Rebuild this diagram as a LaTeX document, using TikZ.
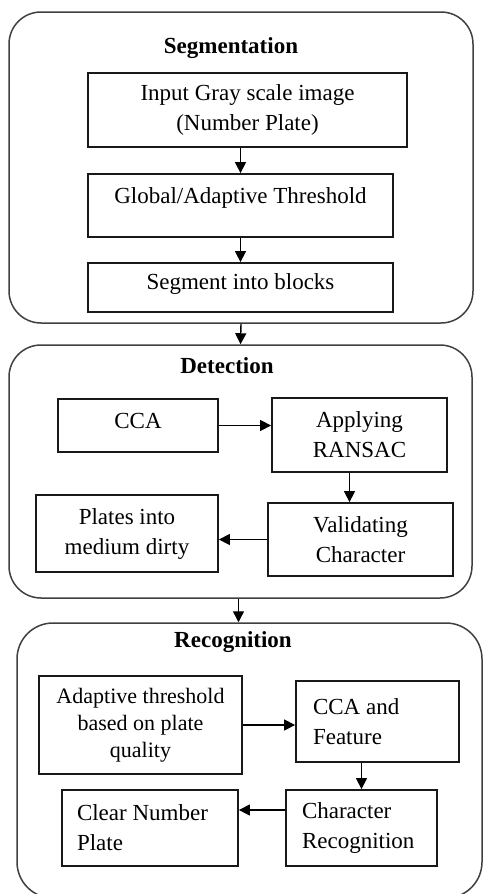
\documentclass[tikz,border=0pt]{standalone}
\usepackage{fontspec}
\setmainfont{Liberation Serif}
\usetikzlibrary{arrows.meta}
\tikzset{
  txt/.style={font=\fontsize{23}{30}\selectfont},
  group/.style={draw=black!75, line width=1.5pt, rounded corners=32pt, inner sep=0pt},
  title/.style={txt, font=\fontsize{23}{30}\selectfont\bfseries, inner sep=0pt},
  box/.style={txt, draw=black!90, line width=1.8pt, inner sep=0pt, align=center},
  flow/.style={line width=1.4pt, -{Triangle[length=11pt,width=11pt]}}
}
\begin{document}
\begin{tikzpicture}[x=1pt,y=-1pt]
\clip (0,0) rectangle (484,894);
\fill[white] (0,0) rectangle (484,894);
% containers
\node[group, minimum width=464pt, minimum height=311pt] (seg) at (241,167.5) {};
\node[group, minimum width=463pt, minimum height=253pt] (det) at (240.5,471.5) {};
\node[group, minimum width=465pt, minimum height=275pt, rounded corners=36pt] (rec) at (249.5,760.5) {};
% titles
\node[title] (segt) at (231,48) {Segmentation};
\node[title] (dett) at (227,366) {Detection};
\node[title] (rect) at (233,642) {Recognition};
% segmentation
\node[box, minimum width=319pt, minimum height=74pt] (in1) at (247.5,110) {Input Gray scale image\\(Number Plate)};
\node[box, minimum width=305pt, minimum height=63pt, text height=16pt, text depth=21pt] (gt) at (240.5,205.5) {Global/Adaptive Threshold};
\node[box, minimum width=305pt, minimum height=49pt, text height=16pt, text depth=12pt] (sb) at (240.5,287.5) {Segment into blocks};
% detection
\node[box, minimum width=160pt, minimum height=53pt, text height=16pt, text depth=10pt] (cca) at (138,425.5) {CCA};
\node[box, minimum width=175pt, minimum height=74pt] (ran) at (359.5,435) {Applying\\RANSAC};
\node[box, minimum width=185pt, minimum height=73pt] (val) at (360.5,539.5) {Validating\\Character};
\node[box, minimum width=182pt, minimum height=77pt] (pl) at (127,533.5) {Plates into\\medium dirty};
% recognition
\node[box, minimum width=203pt, minimum height=98pt, font=\fontsize{22}{27}\selectfont] (ad) at (140.5,725) {Adaptive threshold\\based on plate\\quality};
\node[box, minimum width=163pt, minimum height=81pt, text width=129pt, align=flush left] (cf) at (377.5,721.5) {CCA and\\Feature};
\node[box, minimum width=151pt, minimum height=76pt, text width=119pt, align=flush left] (cr) at (361.5,828) {Character\\Recognition};
\node[box, minimum width=176pt, minimum height=76pt, text width=146pt, align=flush left] (cl) at (150,828) {Clear Number\\Plate};
% connectors
\draw[flow] (in1.south -| gt.north) -- (gt.north);
\draw[flow] (gt.south) -- (sb.north);
\draw[flow] (seg.south) -- (det.north);
\draw[flow] (cca.east) -- (cca.east -| ran.west);
\draw[flow] ([xshift=-10pt]ran.south) -- ([xshift=-10pt]ran.south |- val.north);
\draw[flow] (val.west) -- (val.west -| pl.east);
\draw[flow] ([xshift=-2pt]det.south) -- ([xshift=-2pt]det.south |- rec.north);
\draw[flow] (ad.east) -- (ad.east -| cf.west);
\draw[flow] (cr.north |- cf.south) -- (cr.north);
\draw[flow] ([yshift=18pt]cr.west) -- ([yshift=18pt]cr.west -| cl.east);
\end{tikzpicture}
\end{document}
